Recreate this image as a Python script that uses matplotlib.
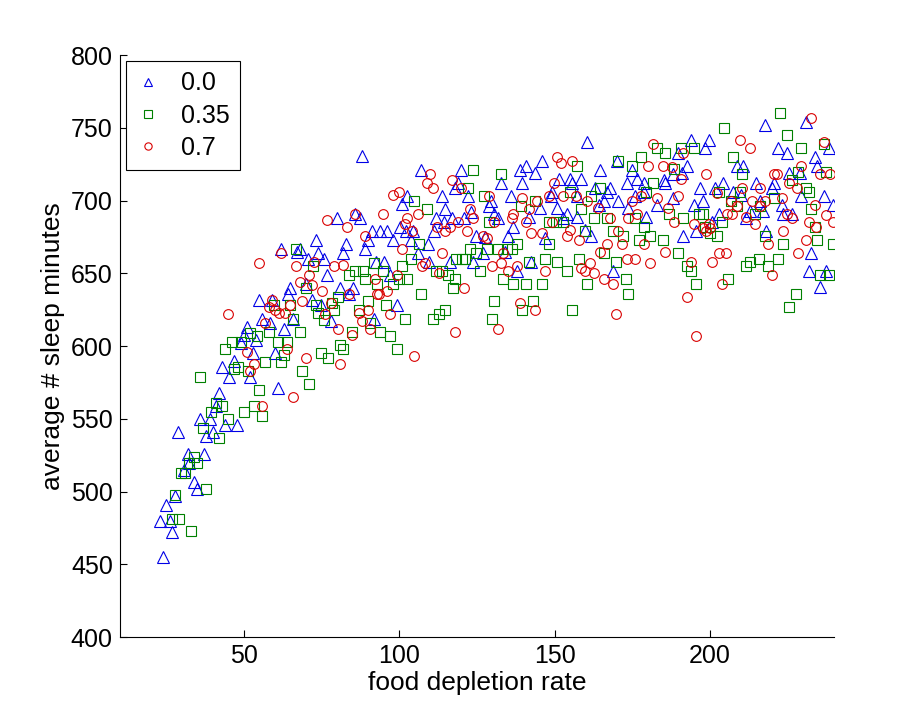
import matplotlib
matplotlib.use("Agg")
import matplotlib.pyplot as plt

# series 0.0 (blue triangles)
x0 = [23.8, 22.9, 26.1, 26.7, 24.8, 27.7, 33.8, 34.8, 31.9, 37.0, 30.6, 32.2, 28.7, 37.7, 39.9, 35.7, 39.0, 43.8, 47.6, 41.8,
      40.9, 42.8, 46.7, 45.1, 51.8, 52.8, 60.8, 48.9, 50.9, 53.7, 59.9, 62.8, 55.7, 58.3, 54.7, 64.0, 64.7, 65.7, 49.9,
      61.8, 66.9, 67.9, 58.9,
      87.9, 106.8, 119.7, 118.7, 117.8, 122.0, 113.6, 102.6, 100.7, 114.6, 85.6, 79.8, 87.2, 111.7, 116.8, 120.7, 122.9, 100.1,
      91.1, 93.6, 95.9, 102.0, 104.3, 111.0, 114.2, 124.8, 73.1, 89.8, 97.8, 103.6, 82.7, 88.8, 109.1,
      73.7, 81.7, 70.5, 75.6, 92.4, 94.9, 105.9, 109.4, 116.2, 123.6, 76.6, 96.9, 69.8, 80.8, 85.0, 83.7, 71.8, 74.7, 99.1, 91.7, 77.9,
      160.5, 145.8, 140.9, 138.7, 143.8, 132.6, 139.6, 151.5, 154.8, 158.6, 155.7, 164.7, 169.9, 174.7, 173.1, 176.6, 178.6,
      135.8, 148.7, 149.0, 157.3, 162.8, 167.9, 166.7, 170.5, 175.7, 178.6, 129.4, 128.7, 145.1, 150.6, 153.8, 165.7, 164.1, 173.7, 182.8,
      130.6, 131.6, 141.6, 152.5, 157.0, 179.5, 136.7, 159.6, 134.8, 161.8, 147.0, 127.7, 126.8, 133.9, 142.5, 137.7, 168.6,
      217.5, 231.0, 193.7, 199.5, 198.5, 189.5, 221.7, 224.6, 233.6, 238.4, 234.5, 208.5, 210.7, 192.7, 187.9, 190.8, 185.6, 185.0, 225.5, 228.8,
      204.0, 214.9, 220.7, 196.6, 201.7, 207.5, 209.8, 219.8, 188.2, 197.6, 194.7, 215.9, 223.0, 229.4, 236.5, 239.4, 202.7, 212.7, 216.9, 223.3,
      226.5, 211.7, 200.5, 195.3, 218.1, 191.4, 232.6, 231.7, 237.4, 235.5]
y0 = [455, 480, 480, 472, 491, 497, 507, 502, 526, 526, 515, 520, 541, 538, 541, 550, 550, 546, 546, 568,
      559, 586, 590, 579, 579, 595, 571, 602, 613, 604, 595, 612, 619, 616, 632, 636, 640, 619, 608,
      667, 665, 667, 632,
      731, 721, 721, 712, 709, 703, 703, 703, 698, 694, 691, 688, 688, 688, 688, 688, 692, 682,
      679, 679, 679, 679, 679, 679, 685, 676, 673, 673, 673, 673, 670, 667, 670,
      664, 664, 660, 660, 658, 658, 664, 658, 658, 658, 649, 649, 643, 640, 640, 636, 632, 628, 628, 619, 617,
      740, 727, 724, 721, 719, 712, 712, 715, 715, 715, 712, 721, 727, 721, 712, 715, 712,
      703, 703, 706, 703, 709, 709, 706, 700, 703, 706, 700, 696, 695, 695, 691, 700, 697, 695, 697,
      691, 688, 689, 688, 689, 689, 682, 680, 676, 676, 674, 675, 664, 665, 658, 652, 652,
      752, 754, 742, 742, 736, 733, 736, 733, 730, 736, 724, 724, 724, 724, 718, 719, 712, 714, 719, 719,
      712, 712, 712, 709, 709, 706, 704, 709, 702, 700, 697, 700, 697, 703, 703, 697, 691, 693, 693, 691,
      691, 688, 685, 679, 679, 676, 664, 652, 652, 641]

# series 0.35 (green squares)
x35 = [27.7, 26.7, 29.0, 32.8, 29.6, 30.9, 33.8, 34.8, 32.2, 37.7, 36.7, 41.8, 39.3, 40.9, 42.8, 44.7, 49.9, 53.1, 55.7, 54.7,
       35.7, 43.8, 46.0, 48.9, 51.8, 54.1, 46.7, 48.0, 51.2, 56.6, 61.8, 57.9, 60.8, 63.7, 62.8, 65.7, 67.9, 68.5, 59.5, 64.7,
       66.6, 70.8,
       123.6, 122.0, 104.6, 108.8, 106.2, 122.6, 118.1, 120.0, 121.0, 124.8, 103.6, 91.7, 72.1, 85.6, 88.2, 94.6, 100.7, 83.7, 88.8, 99.8,
       102.6, 111.7, 113.6, 115.8, 117.8, 125.8, 97.8, 92.7, 69.8, 117.1, 106.8, 80.1, 89.8, 78.2, 73.1, 95.6, 114.6, 112.6, 78.8, 73.7,
       86.9, 75.6, 110.7, 101.7, 90.7, 84.6, 93.6, 96.9, 80.8, 81.7, 99.1, 74.7, 76.9,
       132.6, 157.0, 170.5, 175.0, 177.6, 183.0, 181.5, 179.5, 127.1, 143.5, 154.8, 161.8, 164.7, 139.0, 158.6, 128.7, 148.0, 150.3, 152.5, 162.5,
       166.7, 175.7, 178.6, 168.6, 171.8, 177.0, 180.8, 159.6, 148.0, 137.7, 128.1, 131.6, 134.5, 136.1, 165.7, 146.7, 157.7, 150.6, 141.6, 169.6,
       153.8, 133.5, 136.7, 140.6, 145.8, 160.5, 172.8, 173.7, 130.6, 142.9, 139.6, 155.7, 129.7,
       222.6, 204.6, 224.6, 229.4, 236.5, 190.5, 194.7, 185.6, 207.5, 210.4, 228.4, 237.4, 188.5, 226.5, 230.7, 231.7, 209.5, 203.0, 220.7, 206.6,
       208.5, 215.9, 214.3, 232.6, 186.9, 196.3, 197.6, 191.4, 203.7, 198.2, 199.8, 202.1, 217.5, 233.6, 223.6, 234.5, 239.7, 184.7, 189.5, 221.7,
       215.6, 212.7, 211.7, 218.5, 192.7, 193.7, 235.5, 238.4, 205.6, 195.6, 227.5, 225.5]
y35 = [498, 481, 481, 473, 513, 513, 524, 520, 520, 502, 544, 537, 555, 561, 559, 550, 555, 559, 552, 570,
       579, 598, 603, 603, 609, 607, 584, 586, 583, 589, 589, 610, 603, 603, 594, 619, 610, 583, 628, 628,
       667, 574,
       721, 709, 700, 694, 670, 667, 660, 660, 660, 664, 660, 657, 655, 652, 652, 652, 655, 649, 646, 646,
       646, 652, 652, 649, 646, 652, 643, 643, 640, 640, 636, 634, 631, 630, 628, 628, 625, 622, 625, 623,
       625, 618, 619, 619, 616, 610, 610, 607, 601, 598, 598, 595, 592,
       718, 724, 727, 724, 730, 736, 712, 706, 703, 700, 706, 703, 709, 696, 694, 685, 685, 685, 685, 688,
       688, 688, 682, 679, 676, 673, 676, 679, 670, 670, 667, 667, 667, 667, 664, 660, 660, 658, 658, 658,
       652, 646, 643, 643, 643, 643, 646, 636, 631, 631, 625, 625, 619,
       760, 750, 745, 736, 739, 736, 736, 733, 730, 718, 720, 720, 722, 714, 709, 706, 706, 706, 702, 700,
       696, 696, 691, 694, 691, 691, 691, 688, 685, 682, 678, 676, 676, 682, 670, 673, 670, 673, 664, 660,
       660, 658, 655, 655, 655, 652, 649, 649, 646, 643, 636, 627]

# series 0.7 (red circles)
x70 = [44.7, 50.9, 53.1, 51.8, 55.7, 65.7, 58.9, 57.9, 59.9, 61.2, 63.1, 56.6, 63.7, 64.7, 67.9, 68.5, 61.8, 54.7, 66.6,
       110.0, 108.8, 110.7, 116.8, 119.7, 99.8, 97.8, 105.9, 102.6, 101.7, 94.6, 76.6, 83.0, 122.6, 123.6, 118.7, 112.0, 114.6, 116.2, 121.6,
       88.8, 103.9, 100.7, 113.6, 72.4, 78.8, 81.7, 99.1, 107.2, 108.1, 112.6, 92.0, 70.8, 71.8, 75.0, 83.7, 92.7, 93.3, 95.9, 77.9,
       86.9, 89.8, 75.9, 96.9, 87.9, 90.7, 80.1, 84.6, 120.7, 117.8, 104.6, 69.8, 80.8, 85.6,
       150.6, 151.9, 155.7, 149.6, 139.6, 128.7, 144.2, 148.0, 152.5, 156.7, 160.5, 163.8, 136.7, 136.1, 141.6, 130.6, 140.9, 149.0, 154.8, 145.8,
       142.5, 153.8, 157.7, 167.9, 170.5, 173.7, 176.6, 175.0, 177.6, 179.9, 181.5, 182.8, 126.8, 128.1, 166.7, 164.7, 171.5, 178.6, 133.5, 137.7,
       129.7, 132.6, 135.1, 147.0, 158.3, 159.6, 161.5, 162.5, 173.1, 175.7, 180.5, 165.7, 168.6, 138.7, 143.5, 169.6, 131.6,
       232.6, 209.5, 212.7, 236.5, 191.4, 184.7, 187.6, 198.8, 229.4, 220.7, 221.4, 235.5, 238.7, 190.5, 225.5, 227.8, 210.4, 215.9, 189.5, 223.0,
       202.1, 206.6, 213.6, 217.8, 215.9, 233.6, 208.5, 186.6, 205.3, 206.9, 224.6, 226.5, 211.4, 237.4, 188.5, 194.7, 199.5, 197.6, 198.8, 199.8,
       214.6, 231.7, 234.2, 239.7, 223.6, 230.7, 218.5, 185.6, 202.7, 205.0, 228.4, 200.5, 193.7, 219.8, 203.7, 192.7, 195.6]
y70 = [622, 596, 588, 583, 559, 565, 632, 627, 625, 623, 623, 616, 598, 628, 644, 631, 664, 657, 655,
       718, 712, 709, 714, 709, 706, 704, 691, 688, 684, 691, 687, 682, 694, 688, 685, 682, 679, 682, 679,
       676, 679, 667, 664, 658, 655, 656, 649, 655, 657, 650, 646, 649, 642, 638, 636, 636, 636, 638, 630,
       623, 625, 622, 622, 617, 612, 612, 608, 640, 610, 593, 592, 588, 691,
       730, 726, 727, 712, 702, 703, 700, 703, 703, 703, 700, 695, 691, 688, 694, 685, 685, 685, 680, 678,
       678, 676, 673, 688, 679, 688, 691, 700, 703, 724, 739, 702, 676, 674, 670, 665, 670, 670, 664, 655,
       655, 657, 652, 652, 654, 652, 657, 650, 660, 660, 657, 646, 643, 630, 625, 622, 612,
       757, 742, 736, 740, 733, 724, 723, 718, 724, 718, 718, 718, 718, 715, 712, 709, 709, 709, 703, 702,
       705, 700, 700, 700, 696, 697, 696, 695, 691, 691, 691, 688, 689, 690, 685, 684, 684, 681, 679, 681,
       684, 685, 682, 685, 679, 673, 670, 665, 664, 664, 664, 658, 658, 649, 643, 634, 607]

labels = ['0.0', '0.35', '0.7']

plt.rcParams['font.family'] = ['Liberation Sans', 'DejaVu Sans']

fig = plt.figure(figsize=(9.21, 7.16), dpi=100)
ax = fig.add_axes([0.130, 0.110, 0.776, 0.813])

ax.plot(x0, y0, linestyle='none', marker='^', markersize=8, markerfacecolor='none',
        markeredgecolor=(0, 0, 0.9), markeredgewidth=0.8, label=labels[0])
ax.plot(x35, y35, linestyle='none', marker='s', markersize=7, markerfacecolor='none',
        markeredgecolor=(0, 0.5, 0), markeredgewidth=0.8, label=labels[1])
ax.plot(x70, y70, linestyle='none', marker='o', markersize=7, markerfacecolor='none',
        markeredgecolor=(0.85, 0, 0), markeredgewidth=0.8, label=labels[2])

ax.set_xlim(10, 240)
ax.set_ylim(400, 800)
ax.set_xticks([50, 100, 150, 200])
ax.set_yticks(range(400, 801, 50))
ax.spines['top'].set_visible(False)
ax.spines['right'].set_visible(False)
ax.tick_params(direction='in', length=5, width=0.8, labelsize=18, pad=5)
ax.set_xlabel('food depletion rate', fontsize=19, labelpad=2)
ax.set_ylabel('average # sleep minutes', fontsize=19, labelpad=4)

leg = ax.legend(loc='upper left', fontsize=18, markerscale=0.75, fancybox=False,
                edgecolor='black', framealpha=1, borderaxespad=0.25, handlelength=1.0,
                handletextpad=0.8, labelspacing=0.33, borderpad=0.4)
leg.get_frame().set_linewidth(0.8)

fig.savefig('out.png', dpi=100)
